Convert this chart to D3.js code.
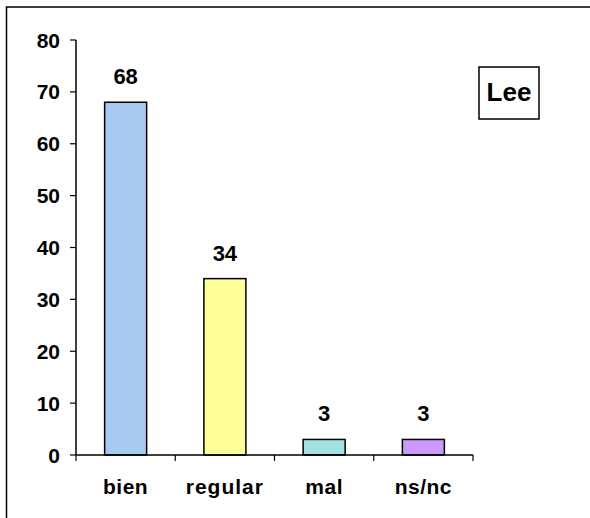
<!DOCTYPE html>
<html><head><meta charset="utf-8">
<script src="https://cdn.jsdelivr.net/npm/d3@7"></script>
<style>body{margin:0;background:#fff}svg{display:block}text{font-family:Arial,"Liberation Sans",sans-serif;font-weight:bold;fill:#000}</style>
</head><body>
<script>
const categories = ["bien", "regular", "mal", "ns/nc"];
const values = [68, 34, 3, 3];
const colors = ["#A6CAF0", "#FFFF99", "#A4E2E2", "#CC99FF"];
const yTicks = [0, 10, 20, 30, 40, 50, 60, 70, 80];
const legendLabel = "Lee";

const W = 590, H = 518;
const svg = d3.select("body").append("svg").attr("width", W).attr("height", H);

svg.append("rect").attr("x", 6.5).attr("y", 7).attr("width", 700).attr("height", 700)
  .attr("fill", "none").attr("stroke", "#000").attr("stroke-width", 1.5);

const x0 = 76, x1 = 473, yTop = 40, yBot = 455;
const x = d3.scaleBand().domain(categories).range([x0, x1]).paddingInner(0).paddingOuter(0);
const y = d3.scaleLinear().domain([0, 80]).range([yBot, yTop]);

// y axis
const ya = svg.append("g");
ya.append("line").attr("x1", x0).attr("x2", x0).attr("y1", yTop).attr("y2", yBot).attr("stroke", "#000").attr("stroke-width", 1.5);
yTicks.forEach(t => {
  ya.append("line").attr("x1", x0 - 6).attr("x2", x0).attr("y1", y(t)).attr("y2", y(t)).attr("stroke", "#000").attr("stroke-width", 1.2);
  ya.append("text").attr("x", x0 - 16).attr("y", y(t)).attr("dy", "0.36em").attr("text-anchor", "end")
    .attr("font-size", 21).text(t);
});

// bars
const bw = 42;
svg.selectAll("rect.bar").data(values).join("rect").attr("class", "bar")
  .attr("x", (d, i) => x(categories[i]) + x.bandwidth() / 2 - bw / 2)
  .attr("y", d => y(d)).attr("width", bw).attr("height", d => yBot - y(d))
  .attr("fill", (d, i) => colors[i]).attr("stroke", "#000").attr("stroke-width", 1.5);

// value labels
svg.selectAll("text.val").data(values).join("text").attr("class", "val")
  .attr("x", (d, i) => x(categories[i]) + x.bandwidth() / 2)
  .attr("y", d => y(d) - 18).attr("text-anchor", "middle").attr("font-size", 22).text(d => d);

// x axis
const xa = svg.append("g");
xa.append("line").attr("x1", x0).attr("x2", x1).attr("y1", yBot).attr("y2", yBot).attr("stroke", "#000").attr("stroke-width", 1.5);
[...categories.map(c => x(c)), x1].forEach(px => {
  xa.append("line").attr("x1", px).attr("x2", px).attr("y1", yBot).attr("y2", yBot + 6).attr("stroke", "#000").attr("stroke-width", 1.2);
});
categories.forEach(c => {
  xa.append("text").attr("x", x(c) + x.bandwidth() / 2).attr("y", 494).attr("text-anchor", "middle")
    .attr("font-size", 21).attr("letter-spacing", c === "regular" ? 1 : 0.5).text(c);
});

// legend
svg.append("rect").attr("x", 479).attr("y", 67).attr("width", 60).attr("height", 52)
  .attr("fill", "#fff").attr("stroke", "#000").attr("stroke-width", 1.5);
svg.append("text").attr("x", 509).attr("y", 92).attr("dy", "0.36em").attr("text-anchor", "middle")
  .attr("font-size", 26).text(legendLabel);
</script>
</body></html>
